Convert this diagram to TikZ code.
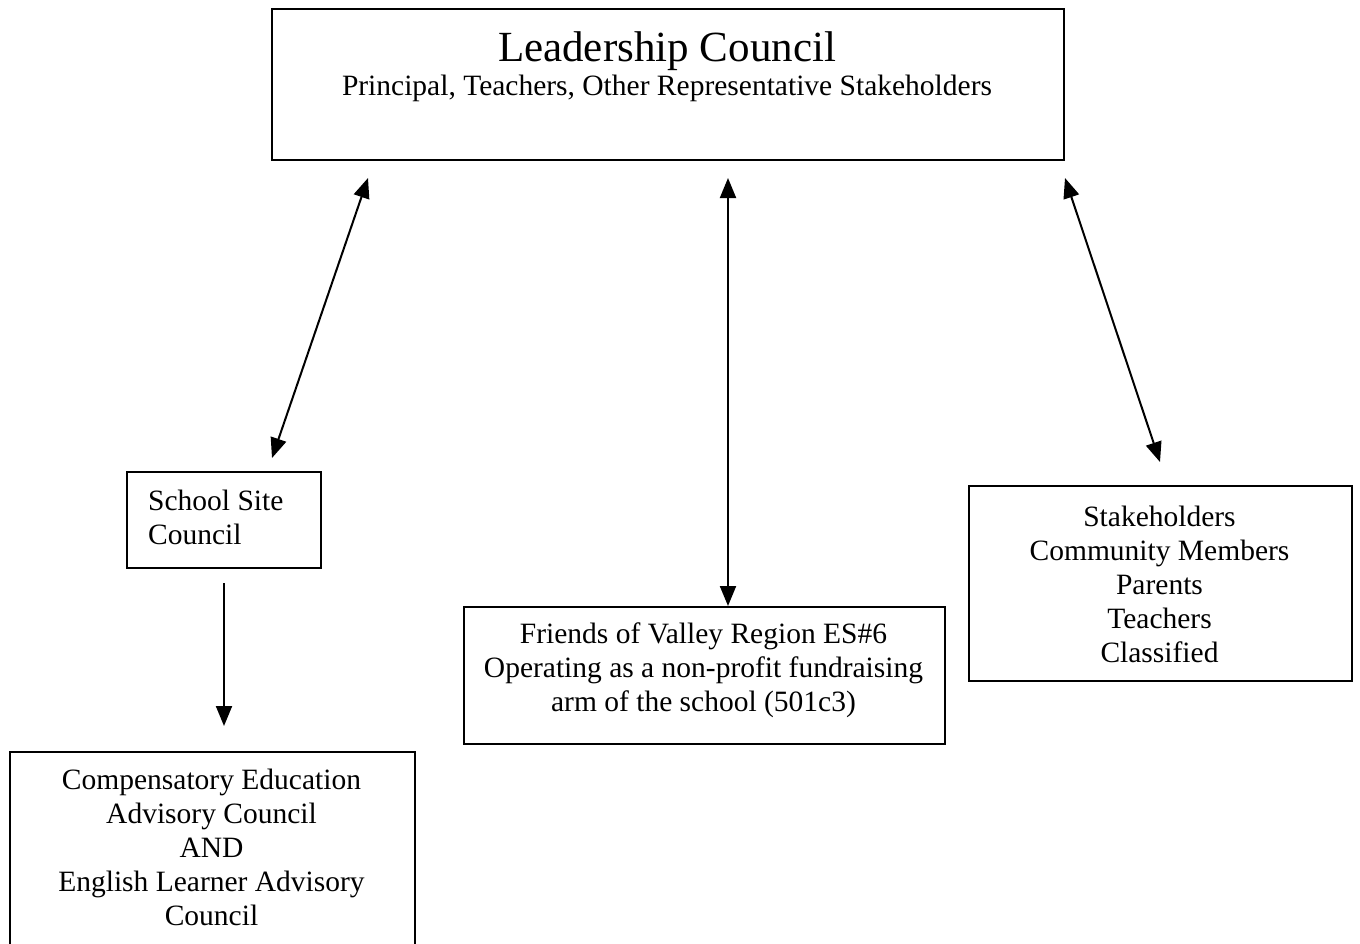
\documentclass[tikz,border=0pt]{standalone}
\usepackage{fontspec}
\setmainfont{Liberation Serif}
\usetikzlibrary{arrows.meta}
\begin{document}
\begin{tikzpicture}[x=1pt,y=-1pt,
  box/.style={draw=black,line width=2pt,inner sep=0pt,anchor=north west},
  txt/.style={inner sep=0pt,font=\fontsize{29.5}{34}\selectfont,align=center},
  link/.style={line width=2pt,{Triangle[length=20pt,width=16pt]}-{Triangle[length=20pt,width=16pt]}},
  down/.style={line width=2pt,-{Triangle[length=20pt,width=16pt]}}]
\clip (0,0) rectangle (1360,943);
\fill[white] (0,0) rectangle (1360,943);
% boxes
\node[box,minimum width=792pt,minimum height=151pt] (lc) at (271,8) {};
\node[box,minimum width=194pt,minimum height=96pt] (ssc) at (126,471) {};
\node[box,minimum width=481pt,minimum height=137pt] (fr) at (463,606) {};
\node[box,minimum width=383pt,minimum height=195pt] (sh) at (968,485) {};
\node[box,minimum width=405pt,minimum height=240pt] (ce) at (9,751) {};
% texts
\node[inner sep=0pt,font=\fontsize{43}{46}\selectfont,anchor=base] (lct) at (667,61) {Leadership Council};
\node[txt,anchor=base] (lcs) at (667,95) {Principal, Teachers, Other Representative Stakeholders};
\node[txt,align=left,anchor=west] (ssct) at (148,517) {School Site\\Council};
\node[txt] (frt) at (703.5,670) {Friends of Valley Region ES\#6\\Operating as a non-profit fundraising\\arm of the school (501c3)};
\node[txt] (sht) at (1159.5,584) {Stakeholders\\Community Members\\Parents\\Teachers\\Classified};
\node[txt] (cet) at (211.5,847) {Compensatory Education\\Advisory Council\\AND\\English Learner Advisory\\Council};
% arrow ends
\coordinate (a1t) at (368,178);
\coordinate (a1b) at (272,458);
\coordinate (a2t) at (728,178);
\coordinate (a2b) at (728,606);
\coordinate (a3t) at (1065,178);
\coordinate (a3b) at (1160,462);
\coordinate (a4t) at (224,583);
\coordinate (a4b) at (224,726);
\draw[link] (a1b) -- (a1t);
\draw[link] (a2b) -- (a2t);
\draw[link] (a3b) -- (a3t);
\draw[down] (a4t) -- (a4b);
\end{tikzpicture}
\end{document}
